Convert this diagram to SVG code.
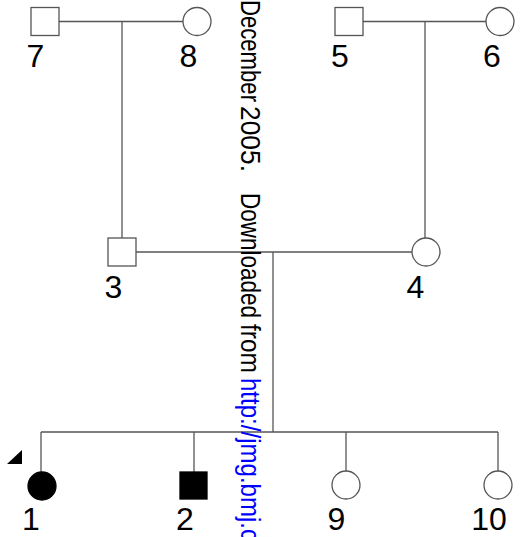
<svg xmlns="http://www.w3.org/2000/svg" width="524" height="537" viewBox="0 0 524 537">
<style>
.bg{fill:#ffffff}
.ln{stroke:#555;stroke-width:1.3;fill:none}
.sym{fill:#fff;stroke:#555;stroke-width:1.3}
.aff{fill:#000;stroke:#000;stroke-width:1.3}
.lbl{font-family:"Liberation Sans",Arial,sans-serif;font-size:32px;fill:#000;text-anchor:middle}
.wm{font-family:"Liberation Sans",Arial,sans-serif;font-size:27px}
</style>
<rect class="bg" x="0" y="0" width="524" height="537"/>
<g id="connectors">
<line class="ln" x1="59" y1="21.5" x2="183" y2="21.5"/>
<line class="ln" x1="122" y1="21.5" x2="122" y2="238"/>
<line class="ln" x1="363" y1="21.5" x2="486" y2="21.5"/>
<line class="ln" x1="425" y1="21.5" x2="425" y2="238"/>
<line class="ln" x1="136" y1="252" x2="412" y2="252"/>
<line class="ln" x1="273" y1="252" x2="273" y2="432"/>
<line class="ln" x1="41" y1="432" x2="498" y2="432"/>
<line class="ln" x1="41" y1="432" x2="41" y2="472"/>
<line class="ln" x1="194" y1="432" x2="194" y2="472"/>
<line class="ln" x1="346" y1="432" x2="346" y2="471"/>
<line class="ln" x1="498" y1="432" x2="498" y2="471"/>
</g>
<g id="n7"><rect class="sym" x="31" y="7.5" width="28" height="28"/><text class="lbl" x="35.5" y="67">7</text></g>
<g id="n8"><circle class="sym" cx="197" cy="21.5" r="14"/><text class="lbl" x="188.5" y="67">8</text></g>
<g id="n5"><rect class="sym" x="335" y="7.5" width="28" height="28"/><text class="lbl" x="340" y="67">5</text></g>
<g id="n6"><circle class="sym" cx="500" cy="21.5" r="14"/><text class="lbl" x="492" y="67">6</text></g>
<g id="n3"><rect class="sym" x="108" y="238" width="28" height="28"/><text class="lbl" x="113.5" y="298">3</text></g>
<g id="n4"><circle class="sym" cx="426" cy="252" r="14"/><text class="lbl" x="415.5" y="298">4</text></g>
<g id="n1"><circle class="aff" cx="42" cy="486" r="14"/><polygon points="7,464 22,464 22,450" fill="#000"/><text class="lbl" x="31" y="530">1</text></g>
<g id="n2"><rect class="aff" x="180" y="472" width="27" height="27"/><text class="lbl" x="185" y="530">2</text></g>
<g id="n9"><circle class="sym" cx="346" cy="485" r="14"/><text class="lbl" x="336.5" y="530">9</text></g>
<g id="n10"><circle class="sym" cx="498" cy="485" r="14"/><text class="lbl" x="489" y="530">10</text></g>
<g id="watermark" transform="translate(241,0) rotate(90)">
<text class="wm" x="0" y="0" fill="#000" textLength="102" lengthAdjust="spacingAndGlyphs">December</text>
<text class="wm" x="106" y="0" fill="#000" textLength="66" lengthAdjust="spacingAndGlyphs">2005.</text>
<text class="wm" x="193" y="0" fill="#000" textLength="125" lengthAdjust="spacingAndGlyphs">Downloaded</text>
<text class="wm" x="324" y="0" fill="#000" textLength="49" lengthAdjust="spacingAndGlyphs">from</text>
<text class="wm" x="378" y="0" fill="#0000ff" textLength="163" lengthAdjust="spacingAndGlyphs">http://jmg.bmj.c</text>
</g>
</svg>
